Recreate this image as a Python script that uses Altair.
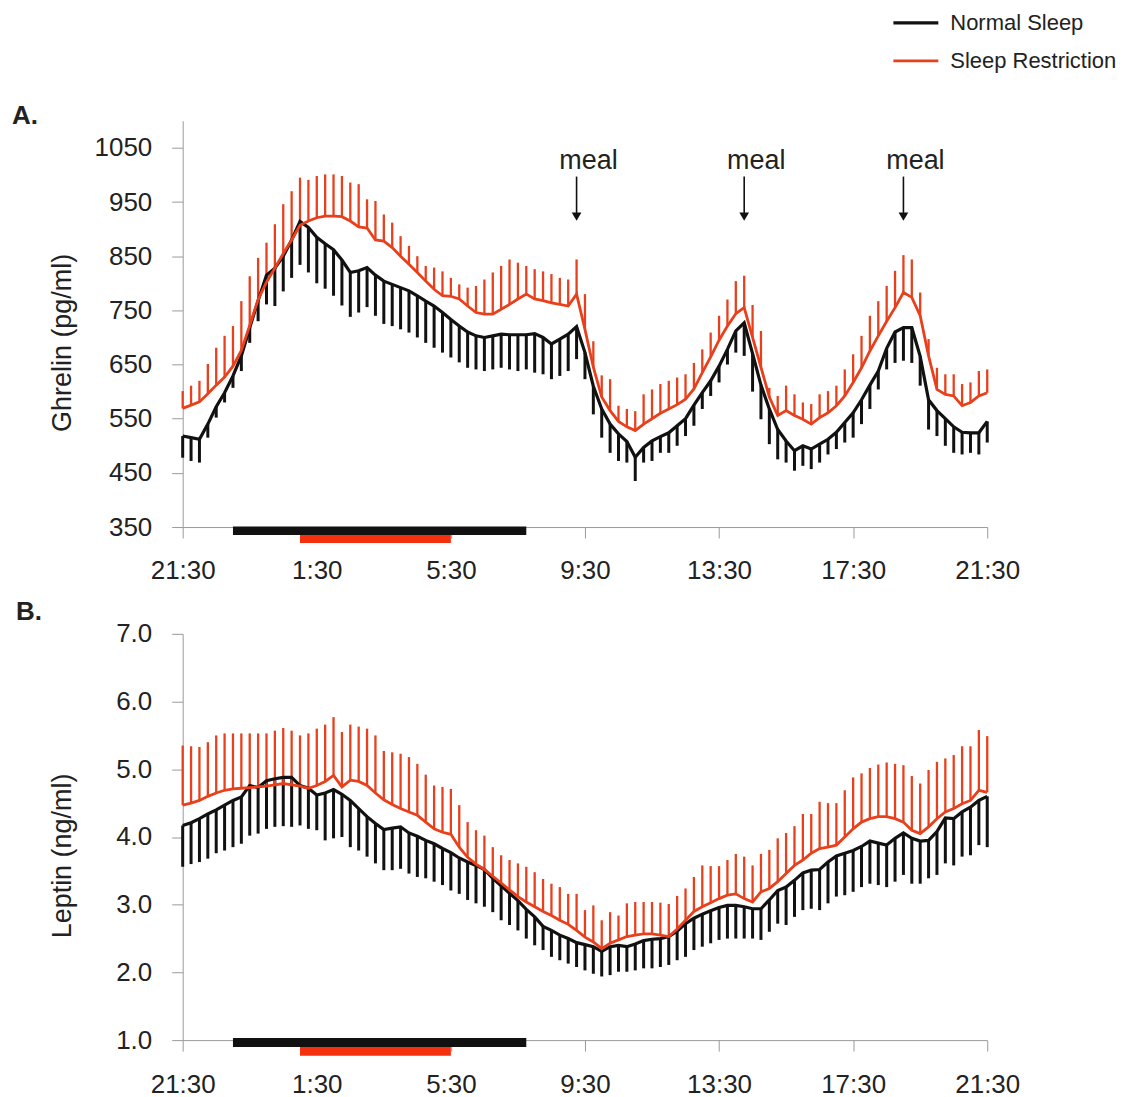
import altair as alt
import pandas as pd

# ---------------- data ----------------
hours = [i * 0.25 for i in range(97)]          # 15-min samples from 21:30 (0 h) to 21:30 (24 h)
tick_hours = [0, 4, 8, 12, 16, 20, 24]
tick_labels = ['21:30', '1:30', '5:30', '9:30', '13:30', '17:30', '21:30']
groups = ['Normal Sleep', 'Sleep Restriction']

ghrelin_normal = [518, 515, 512, 540, 572, 598, 629, 666, 718, 768,
                  815, 828, 850, 880, 914, 903, 885, 873, 862, 843,
                  820, 823, 829, 815, 804, 798, 792, 786, 777, 767,
                  758, 746, 733, 721, 710, 703, 700, 703, 706, 705,
                  705, 705, 707, 700, 688, 697, 706, 720, 672, 610,
                  568, 540, 522, 508, 479, 497, 509, 517, 524, 537,
                  550, 575, 598, 620, 647, 678, 712, 727, 670, 612,
                  568, 530, 509, 491, 500, 494, 503, 512, 525, 543,
                  561, 585, 612, 638, 680, 710, 718, 718, 665, 585,
                  565, 550, 535, 525, 524, 524, 545]
ghrelin_normal_low = [478, 472, 469, 515, 552, 580, 607, 638, 690, 730,
                      761, 758, 785, 810, 834, 820, 800, 790, 777, 759,
                      738, 746, 756, 740, 725, 721, 715, 709, 700, 690,
                      681, 672, 663, 654, 644, 641, 638, 641, 644, 641,
                      638, 641, 635, 632, 623, 629, 638, 660, 623, 558,
                      515, 487, 472, 469, 435, 469, 472, 487, 487, 500,
                      518, 537, 568, 592, 617, 650, 672, 666, 600, 549,
                      503, 475, 469, 454, 463, 457, 469, 484, 494, 506,
                      515, 540, 568, 604, 641, 653, 657, 653, 611, 530,
                      518, 500, 487, 484, 487, 484, 506]
ghrelin_restr = [569, 575, 581, 596, 612, 627, 647, 676, 722, 770,
                 802, 828, 855, 880, 907, 915, 921, 924, 924, 923,
                 915, 904, 902, 880, 878, 866, 850, 835, 820, 804,
                 789, 777, 776, 771, 758, 746, 743, 743, 752, 761,
                 771, 780, 771, 768, 764, 761, 758, 780, 715, 645,
                 590, 565, 545, 535, 528, 540, 550, 560, 568, 576,
                 586, 605, 635, 664, 695, 721, 744, 755, 700, 645,
                 590, 556, 565, 556, 549, 540, 552, 561, 574, 592,
                 617, 644, 675, 703, 730, 755, 783, 774, 740, 666,
                 604, 595, 592, 574, 580, 592, 598]
ghrelin_restr_high = [601, 611, 620, 651, 681, 703, 721, 767, 813, 847,
                      875, 909, 946, 970, 995, 991, 998, 1001, 1001, 998,
                      986, 983, 955, 952, 927, 912, 887, 869, 850, 832,
                      829, 822, 810, 798, 792, 795, 807, 820, 832, 844,
                      838, 832, 826, 822, 817, 810, 807, 844, 780, 693,
                      630, 623, 574, 568, 564, 595, 604, 614, 620, 626,
                      632, 653, 678, 709, 740, 770, 804, 814, 760, 712,
                      607, 592, 611, 595, 580, 577, 595, 601, 611, 641,
                      669, 703, 740, 767, 795, 823, 852, 844, 783, 697,
                      644, 632, 632, 614, 617, 638, 641]

leptin_normal = [4.17, 4.21, 4.27, 4.34, 4.40, 4.47, 4.54, 4.59, 4.76, 4.73,
                 4.83, 4.86, 4.88, 4.88, 4.76, 4.72, 4.62, 4.65, 4.70, 4.63,
                 4.54, 4.42, 4.30, 4.20, 4.11, 4.13, 4.15, 4.06, 4.01, 3.95,
                 3.90, 3.83, 3.77, 3.69, 3.63, 3.58, 3.52, 3.39, 3.28, 3.17,
                 3.06, 2.93, 2.82, 2.68, 2.62, 2.55, 2.50, 2.44, 2.41, 2.38,
                 2.31, 2.38, 2.40, 2.38, 2.42, 2.47, 2.49, 2.50, 2.53, 2.61,
                 2.72, 2.80, 2.86, 2.91, 2.96, 2.99, 2.99, 2.97, 2.94, 2.94,
                 3.07, 3.21, 3.26, 3.36, 3.47, 3.51, 3.52, 3.63, 3.72, 3.76,
                 3.80, 3.86, 3.94, 3.91, 3.88, 3.98, 4.06, 3.98, 3.94, 3.95,
                 4.08, 4.28, 4.27, 4.37, 4.44, 4.54, 4.60]
leptin_normal_low = [3.56, 3.60, 3.63, 3.68, 3.76, 3.80, 3.85, 3.90, 4.02, 4.05,
                     4.12, 4.15, 4.16, 4.15, 4.17, 4.12, 4.10, 3.95, 3.98, 4.00,
                     3.85, 3.80, 3.71, 3.61, 3.51, 3.51, 3.53, 3.46, 3.41, 3.39,
                     3.34, 3.29, 3.21, 3.16, 3.07, 3.02, 2.97, 2.89, 2.77, 2.70,
                     2.62, 2.50, 2.40, 2.33, 2.23, 2.18, 2.13, 2.08, 2.03, 1.98,
                     1.94, 1.96, 2.01, 2.01, 2.03, 2.06, 2.06, 2.08, 2.11, 2.18,
                     2.23, 2.33, 2.38, 2.43, 2.48, 2.50, 2.50, 2.50, 2.50, 2.48,
                     2.60, 2.72, 2.70, 2.82, 2.92, 2.94, 2.92, 3.02, 3.12, 3.14,
                     3.19, 3.26, 3.31, 3.29, 3.26, 3.34, 3.44, 3.31, 3.31, 3.39,
                     3.44, 3.61, 3.58, 3.71, 3.73, 3.88, 3.85]
leptin_restr = [4.47, 4.50, 4.54, 4.60, 4.65, 4.69, 4.71, 4.72, 4.73, 4.74,
                4.75, 4.77, 4.79, 4.77, 4.75, 4.72, 4.76, 4.82, 4.91, 4.74,
                4.84, 4.82, 4.76, 4.65, 4.55, 4.48, 4.42, 4.37, 4.32, 4.22,
                4.12, 4.07, 4.04, 3.85, 3.70, 3.60, 3.52, 3.42, 3.32, 3.22,
                3.12, 3.04, 2.97, 2.90, 2.84, 2.77, 2.71, 2.62, 2.52, 2.45,
                2.35, 2.43, 2.48, 2.53, 2.55, 2.57, 2.57, 2.55, 2.53, 2.64,
                2.77, 2.90, 2.97, 3.03, 3.09, 3.14, 3.16, 3.09, 3.04, 3.19,
                3.24, 3.34, 3.46, 3.58, 3.66, 3.76, 3.83, 3.85, 3.88, 4.00,
                4.12, 4.22, 4.27, 4.30, 4.30, 4.27, 4.22, 4.10, 4.05, 4.15,
                4.27, 4.37, 4.42, 4.49, 4.54, 4.69, 4.66]
leptin_restr_high = [5.35, 5.34, 5.33, 5.40, 5.50, 5.53, 5.53, 5.53, 5.53, 5.53,
                     5.53, 5.57, 5.61, 5.57, 5.50, 5.53, 5.60, 5.66, 5.77, 5.55,
                     5.66, 5.63, 5.60, 5.50, 5.27, 5.25, 5.23, 5.18, 5.08, 4.92,
                     4.76, 4.74, 4.71, 4.47, 4.22, 4.10, 4.02, 3.85, 3.73, 3.66,
                     3.61, 3.56, 3.48, 3.38, 3.31, 3.26, 3.16, 3.16, 2.92, 2.99,
                     2.77, 2.89, 2.84, 3.02, 3.04, 3.04, 3.04, 3.03, 3.01, 3.13,
                     3.24, 3.41, 3.58, 3.57, 3.57, 3.66, 3.75, 3.71, 3.58, 3.75,
                     3.81, 3.98, 4.06, 4.16, 4.34, 4.34, 4.52, 4.50, 4.50, 4.69,
                     4.88, 4.94, 5.02, 5.07, 5.10, 5.08, 5.06, 4.90, 4.79, 4.99,
                     5.11, 5.16, 5.21, 5.34, 5.34, 5.58, 5.49]

meal_hours = [11.75, 16.75, 21.5]                 # ~9:15, ~14:15, ~19:00
sleep_start = [1.5, 3.5]                           # 23:00 (normal), 1:00 (restricted)
sleep_end = [10.25, 8.0]                           # 7:45 (normal), 5:30 (restricted)
ghrelin_sleep_top = [351, 335.3]
ghrelin_sleep_bottom = [335.3, 320.5]
leptin_sleep_top = [1.03, 0.9]
leptin_sleep_bottom = [0.9, 0.77]

# panel letters, placed in each panel's own data space (left of the y axis)
panel_letters = ['A.', 'B.']
letter_hour = [-5.09, -4.97]
letter_level = [1094, 7.21]

# ---------------- styling ----------------
FONT = "Liberation Sans, Arial, sans-serif"
BLACK = '#111111'
RED = '#e8401c'
BAR_RED = '#f5300e'
AXIS_GREY = '#9a9a9a'
TXT = '#222222'

label_expr = "[" + ",".join("'%s'" % t for t in tick_labels) + "][round(datum.value / 4)]"


def long_df(normal, normal_end, restr, restr_end):
    n = len(hours)
    return pd.DataFrame({
        'hour': hours + hours,
        'group': [groups[0]] * n + [groups[1]] * n,
        'mean': normal + restr,
        'end': normal_end + restr_end,
    })


def panel(df, ydomain, yvals, yfmt, ytitle, sleep_top, sleep_bottom, idx, meals, legend):
    x_axis = alt.Axis(values=tick_hours, labelExpr=label_expr, title=None, grid=False,
                      domainColor=AXIS_GREY, tickColor=AXIS_GREY, tickSize=11,
                      labelFont=FONT, labelFontSize=26, labelColor=TXT, labelPadding=20,
                      labelFlush=False)
    y_axis = alt.Axis(values=yvals, format=yfmt, title=ytitle, grid=False,
                      domainColor=AXIS_GREY, tickColor=AXIS_GREY, tickSize=11,
                      labelFont=FONT, labelFontSize=26, labelColor=TXT, labelPadding=20,
                      titleFont=FONT, titleFontSize=27, titleFontWeight='normal',
                      titleColor=TXT, titleX=-106, titleY=222)
    xs = alt.Scale(domain=[0, 24], nice=False, zero=False)
    ys = alt.Scale(domain=ydomain, nice=False, zero=False)
    X = alt.X('hour:Q', scale=xs, axis=x_axis)
    Y = alt.Y('mean:Q', scale=ys, axis=y_axis)

    base = alt.Chart(df)
    err_black = base.transform_filter(alt.datum.group == groups[0]).mark_rule(
        color=BLACK, strokeWidth=3).encode(x=X, y=Y, y2='end:Q')
    err_red = base.transform_filter(alt.datum.group == groups[1]).mark_rule(
        color=RED, strokeWidth=2.3).encode(x=X, y=Y, y2='end:Q')
    lines = base.mark_line(strokeJoin='miter').encode(
        x=X, y=Y,
        color=alt.Color('group:N', scale=alt.Scale(domain=groups, range=[BLACK, RED]), legend=legend),
        strokeWidth=alt.StrokeWidth('group:N', scale=alt.Scale(domain=groups, range=[3.2, 2.8]), legend=None),
    )

    sleep = pd.DataFrame({'start': sleep_start, 'end': sleep_end,
                          'top': sleep_top, 'bottom': sleep_bottom,
                          'kind': ['normal', 'restricted']})
    sb = alt.Chart(sleep)
    bar_black = sb.transform_filter(alt.datum.kind == 'normal').mark_rect(color=BLACK).encode(
        x=alt.X('start:Q', scale=xs), x2='end:Q', y=alt.Y('top:Q', scale=ys), y2='bottom:Q')
    bar_red = sb.transform_filter(alt.datum.kind == 'restricted').mark_rect(color=BAR_RED).encode(
        x=alt.X('start:Q', scale=xs), x2='end:Q', y=alt.Y('top:Q', scale=ys), y2='bottom:Q')

    letter = alt.Chart(pd.DataFrame({'t': [panel_letters[idx]]})).mark_text(
        font=FONT, fontSize=26, fontWeight='bold', color=TXT, align='left', baseline='alphabetic'
    ).encode(x=alt.X(datum=letter_hour[idx], scale=xs), y=alt.Y(datum=letter_level[idx], scale=ys), text='t:N')

    layers = [err_black, err_red, lines, bar_black, bar_red, letter]

    if meals:
        mdf = pd.DataFrame({'hour': meal_hours, 'text': ['meal'] * len(meal_hours)})
        mb = alt.Chart(mdf)
        mtext = mb.mark_text(font=FONT, fontSize=27, color=TXT, baseline='middle', dx=12).encode(
            x=alt.X('hour:Q', scale=xs), y=alt.Y(datum=1026, scale=ys), text='text:N')
        shaft = mb.mark_rule(color=BLACK, strokeWidth=1.6).encode(
            x=alt.X('hour:Q', scale=xs), y=alt.Y(datum=997, scale=ys), y2=alt.Y2(datum=926))
        head = mb.mark_point(shape='triangle-down', filled=True, size=95, color=BLACK, opacity=1).encode(
            x=alt.X('hour:Q', scale=xs), y=alt.Y(datum=923, scale=ys))
        layers += [shaft, head, mtext]

    return alt.layer(*layers).properties(width=806, height=407)


legend_a = alt.Legend(title=None, orient='none', legendX=710, legendY=-113,
                      symbolType='stroke', symbolSize=2025, symbolStrokeWidth=3,
                      labelFont=FONT, labelFontSize=22, labelColor=TXT, labelLimit=400,
                      labelOffset=10, rowPadding=8, clipHeight=30, padding=0, offset=0)

df_a = long_df(ghrelin_normal, ghrelin_normal_low, ghrelin_restr, ghrelin_restr_high)
df_b = long_df(leptin_normal, leptin_normal_low, leptin_restr, leptin_restr_high)

panel_a = panel(df_a, [350, 1100], [350, 450, 550, 650, 750, 850, 950, 1050], 'd',
                'Ghrelin (pg/ml)', ghrelin_sleep_top, ghrelin_sleep_bottom, 0, True, legend_a)
panel_b = panel(df_b, [1, 7], [1, 2, 3, 4, 5, 6, 7], '.1f',
                'Leptin (ng/ml)', leptin_sleep_top, leptin_sleep_bottom, 1, False, None)

chart = alt.vconcat(panel_a, panel_b, spacing=14).resolve_scale(
    color='independent', strokeWidth='independent').resolve_legend(
    color='independent', strokeWidth='independent').properties(
    padding={'left': 4, 'top': -1, 'right': 0, 'bottom': 0}, background='white'
).configure_view(stroke=None)

chart.save("out.html", embed_options={"renderer": "svg", "actions": False})
